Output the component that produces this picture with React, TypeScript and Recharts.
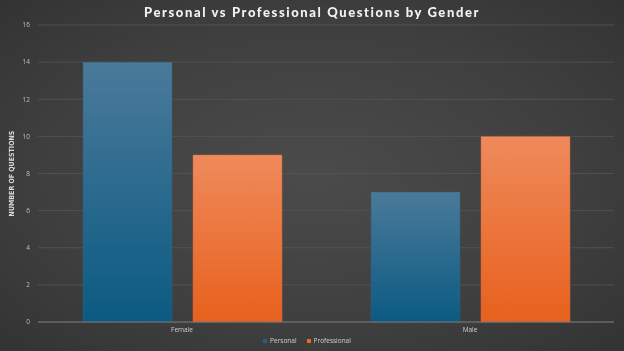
import React from 'react';
import { BarChart, Bar, XAxis, YAxis, CartesianGrid, Legend, Label } from 'recharts';

const genders = ['Female', 'Male'];
const personal = [14, 7];
const professional = [9, 10];
const yTicks = [0, 2, 4, 6, 8, 10, 12, 14, 16];

const chartData = genders.map((g, i) => ({
    gender: g,
    Personal: personal[i],
    Professional: professional[i],
}));

const renderLegend = () => (
    <div style={{ height: 15, display: 'flex', justifyContent: 'center', alignItems: 'flex-start', gap: 10, fontFamily: 'Open Sans, sans-serif', fontSize: 6.5, color: '#d0d0d0' }}>
        <span style={{ display: 'flex', alignItems: 'center' }}>
            <span style={{ width: 4, height: 4, background: '#1e6288', marginRight: 3 }} />Personal
        </span>
        <span style={{ display: 'flex', alignItems: 'center' }}>
            <span style={{ width: 4, height: 4, background: '#ec6a25', marginRight: 3 }} />Professional
        </span>
    </div>
);

const App: React.FC = () => {
    return (
        <div
            style={{
                position: 'fixed',
                top: 0,
                left: 0,
                width: 624,
                height: 351,
                background: 'radial-gradient(ellipse at 50% 50%, #4b4b4b 0%, #3f3f3f 60%, #333333 100%)',
            }}
        >
            <div
                style={{
                    position: 'absolute',
                    top: 4,
                    width: '100%',
                    textAlign: 'center',
                    color: '#f2f2f2',
                    fontFamily: 'Lato, sans-serif',
                    fontWeight: 900,
                    fontSize: 13,
                    letterSpacing: 1.6,
                }}
            >
                Personal vs Professional Questions by Gender
            </div>
            <BarChart
                width={624}
                height={351}
                data={chartData}
                margin={{ top: 25, right: 10, left: 0, bottom: 0 }}
                barCategoryGap={45}
                barGap={21}
            >
                <defs>
                    <linearGradient id="gradPersonal" x1="0" y1="0" x2="0" y2="1">
                        <stop offset="0%" stopColor="#4a7a9a" />
                        <stop offset="100%" stopColor="#0b5a82" />
                    </linearGradient>
                    <linearGradient id="gradProfessional" x1="0" y1="0" x2="0" y2="1">
                        <stop offset="0%" stopColor="#ef8a5c" />
                        <stop offset="100%" stopColor="#e8601c" />
                    </linearGradient>
                </defs>
                <CartesianGrid vertical={false} stroke="#555555" strokeWidth={0.8} />
                <XAxis
                    dataKey="gender"
                    height={14}
                    axisLine={{ stroke: '#777777', strokeWidth: 1.2 }}
                    tickLine={false}
                    tick={{ fill: '#cfcfcf', fontSize: 6.5, fontFamily: 'Open Sans, sans-serif' }}
                    dy={-3}
                />
                <YAxis
                    width={38}
                    domain={[0, 16]}
                    ticks={yTicks}
                    axisLine={false}
                    tickLine={false}
                    tick={{ fill: '#bfbfbf', fontSize: 6.5, fontFamily: 'Open Sans, sans-serif' }}
                    interval={0}
                >
                    <Label
                        value="NUMBER OF QUESTIONS"
                        angle={-90}
                        position="insideLeft"
                        offset={12}
                        style={{ fill: '#d8d8d8', fontSize: 7, fontWeight: 700, fontFamily: 'Liberation Sans Narrow, DejaVu Sans Condensed, sans-serif', textAnchor: 'middle' }}
                    />
                </YAxis>
                <Legend verticalAlign="bottom" content={renderLegend} />
                <Bar dataKey="Personal" fill="url(#gradPersonal)" stroke="#3b5f78" strokeWidth={0.5} isAnimationActive={false} />
                <Bar dataKey="Professional" fill="url(#gradProfessional)" stroke="#c96a3c" strokeWidth={0.5} isAnimationActive={false} />
            </BarChart>
        </div>
    );
};

export default App;
